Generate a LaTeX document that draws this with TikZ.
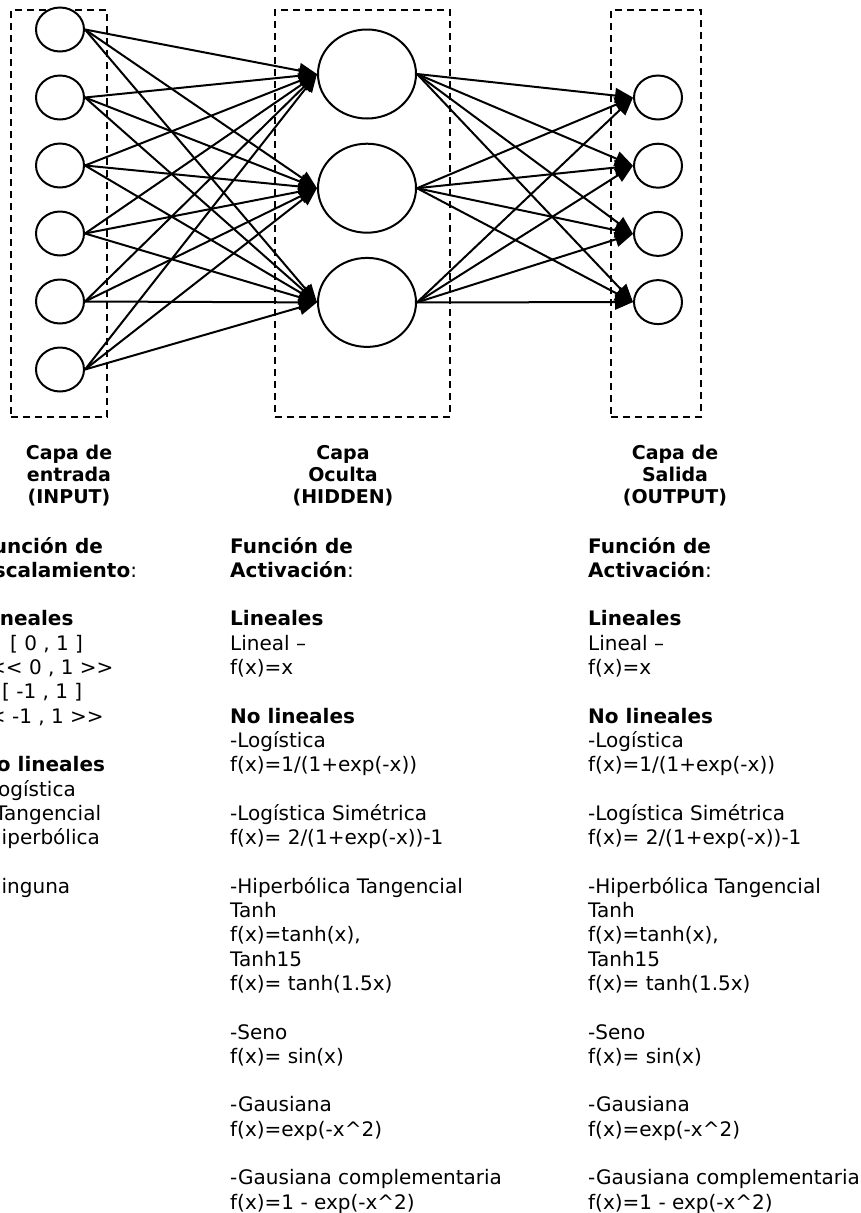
\documentclass[tikz,border=0pt]{standalone}
\usepackage{fontspec}
\newfontfamily\vfont{DejaVu Sans}
\usetikzlibrary{arrows.meta,shapes.geometric}

\begin{document}
\begin{tikzpicture}[x=1pt,y=-1pt,
  layerbox/.style={draw, line width=2pt, dash pattern=on 7pt off 5pt, inner sep=0pt},
  smallneuron/.style={draw, ellipse, line width=2pt, fill=white, inner sep=0pt,
                      minimum width=48pt, minimum height=44pt},
  bigneuron/.style={draw, ellipse, line width=2pt, fill=white, inner sep=0pt,
                    minimum width=98pt, minimum height=89pt},
  link/.style={line width=2pt, -{Triangle[length=18pt,width=15pt]}},
  layertitle/.style={font=\vfont\bfseries\fontsize{19}{22}\selectfont, inner sep=0pt, anchor=base},
  listline/.style={font=\vfont\fontsize{20}{24.3}\selectfont, inner sep=0pt, anchor=base west}]

\useasboundingbox (0,0) rectangle (860,1213);
\clip (0,0) rectangle (860,1213);

% dashed layer frames
\node[layerbox, minimum width=96pt,  minimum height=407pt] (inbox)  at (59,213.5)  {};
\node[layerbox, minimum width=175pt, minimum height=407pt] (hidbox) at (362.5,213.5) {};
\node[layerbox, minimum width=90pt,  minimum height=407pt] (outbox) at (656,213.5) {};

% input layer
\foreach \i in {1,...,6}
  \node[smallneuron] (in\i) at (60,{29.5+68*(\i-1)}) {};

% hidden layer
\foreach \j in {1,2,3}
  \node[bigneuron] (hid\j) at (367,{74+114.2*(\j-1)}) {};

% output layer
\foreach \k in {1,...,4}
  \node[smallneuron] (out\k) at (658,{97.5+68.2*(\k-1)}) {};

% connections
\foreach \i in {1,...,6}
  \foreach \j in {1,2,3}
    \draw[link] (in\i.east) -- (hid\j.west);
\foreach \j in {1,2,3}
  \foreach \k in {1,...,4}
    \draw[link] (hid\j.east) -- (out\k.west);

% layer titles
\foreach \t [count=\n from 0] in {Capa de, entrada, (INPUT)}
  \node[layertitle] (tin\n) at (69,{459+22*\n}) {\t};
\foreach \t [count=\n from 0] in {Capa, Oculta, (HIDDEN)}
  \node[layertitle] (thid\n) at (343,{459+22*\n}) {\t};
\foreach \t [count=\n from 0] in {Capa de, Salida, (OUTPUT)}
  \node[layertitle] (tout\n) at (675,{459+22*\n}) {\t};

% scaling functions of the input layer
\foreach \n/\t in {
   0/{\textbf{Función de}},
   1/{\textbf{Escalamiento}:},
   3/{\textbf{Lineales}},
   4/{\hspace*{30pt}[ 0 , 1 ]},
   5/{\hspace*{9pt}<\kern0pt< 0 , 1 >\kern0pt>},
   6/{\hspace*{22pt}[ -1 , 1 ]},
   7/{\hspace*{-8pt}<\kern0pt< -1 , 1 >\kern0pt>},
   9/{\textbf{No lineales}},
   10/{-Logística},
   11/{\hspace*{15pt}Tangencial},
   12/{\hspace*{6.5pt}Hiperbólica},
   14/{\hspace*{6.5pt}Ninguna}}
  \node[listline] (esc\n) at (-20,{553+24.3*\n}) {\t};

% activation functions of the hidden and output layers
\foreach \col/\x in {hact/230, oact/588}
  \foreach \n/\t in {
     0/{\textbf{Función de}},
     1/{\textbf{Activación}:},
     3/{\textbf{Lineales}},
     4/{Lineal –},
     5/{f(x)=x},
     7/{\textbf{No lineales}},
     8/{-Logística},
     9/{f(x)=1/(1+exp(-x))},
     11/{-Logística Simétrica},
     12/{f(x)= 2/(1+exp(-x))-1},
     14/{-Hiperbólica Tangencial},
     15/{Tanh},
     16/{f(x)=tanh(x),},
     17/{Tanh15},
     18/{f(x)= tanh(1.5x)},
     20/{-Seno},
     21/{f(x)= sin(x)},
     23/{-Gausiana},
     24/{f(x)=exp(-x\textasciicircum 2)},
     26/{-Gausiana complementaria},
     27/{f(x)=1 - exp(-x\textasciicircum 2)}}
    \node[listline] (\col\n) at (\x,{553+24.3*\n}) {\t};

\end{tikzpicture}
\end{document}
